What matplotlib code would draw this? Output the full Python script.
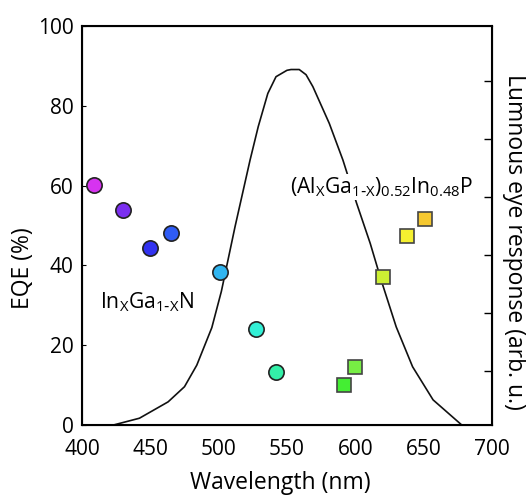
import matplotlib
matplotlib.use("Agg")
import matplotlib.pyplot as plt

plt.rcParams['font.family'] = ['Open Sans', 'DejaVu Sans']

# luminous eye response curve (EQE-axis units)
eye_wl = [423, 442, 463, 475, 484, 495, 502, 512, 523, 529, 536, 542, 550, 553, 559,
          564, 569, 581, 591, 601, 611, 619, 630, 642, 657, 678]
eye_val = [0, 1.7, 5.8, 9.6, 15, 24.4, 33.5, 49.7, 66.4, 74.8, 83.1, 87.3, 88.9, 89.1, 89.1,
           87.8, 84.8, 75.6, 66.4, 55.6, 45.5, 36.3, 24.6, 14.6, 6.3, 0]

# InGaN LEDs
ingan_wl = [409, 430, 450, 465, 501, 527, 542]
ingan_eqe = [60.2, 53.9, 44.3, 48.2, 38.3, 24.1, 13.4]
ingan_colors = ['#d633f0', '#7b2ff0', '#3232f0', '#2f5cf5', '#30b5f0', '#33f0d6', '#33f0a8']

# AlGaInP LEDs
algainp_wl = [592, 600, 620, 638, 651]
algainp_eqe = [10.0, 14.6, 37.2, 47.4, 51.6]
algainp_colors = ['#44ee33', '#77ee44', '#ccf033', '#f5f030', '#f5c830']

fig = plt.figure(figsize=(5.26, 4.95), dpi=100)
ax = fig.add_axes([0.156, 0.1414, 0.779, 0.806])

ax.plot(eye_wl, eye_val, color='#111111', lw=1.2, zorder=1)

for w, v, c in zip(ingan_wl, ingan_eqe, ingan_colors):
    ax.plot(w, v, 'o', ms=11, mfc=c, mec='#222222', mew=1.2, zorder=3)
for w, v, c in zip(algainp_wl, algainp_eqe, algainp_colors):
    ax.plot(w, v, 's', ms=10.5, mfc=c, mec='#444444', mew=1.2, zorder=3)

ax.text(413, 30.8, r'In$_\mathregular{X}$Ga$_\mathregular{1\text{-}X}$N', fontsize=15.2,
        va='center', ha='left', zorder=2)
ax.text(552, 59.6, r'(Al$_\mathregular{X}$Ga$_\mathregular{1\text{-}X}$)$_\mathregular{0.52}$In$_\mathregular{0.48}$P',
        fontsize=15.2, va='center', ha='left', zorder=2,
        bbox=dict(facecolor='white', edgecolor='none', pad=1))

ax.set_xlim(400, 700)
ax.set_ylim(0, 100)
ax.set_xticks([400, 450, 500, 550, 600, 650, 700])
ax.set_yticks([0, 20, 40, 60, 80, 100])
ax.tick_params(axis='x', length=0, labelsize=15, pad=10)
ax.tick_params(axis='y', direction='in', length=3, labelsize=15, pad=6)
ax.tick_params(right=False, top=False)
for s in ax.spines.values():
    s.set_linewidth(1.5)

ax.set_xlabel('Wavelength (nm)', fontsize=16.5, va='center')
ax.xaxis.set_label_coords(0.485, -0.145)
ax.set_ylabel('EQE (%)', fontsize=16.5, va='center')
ax.yaxis.set_label_coords(-0.145, 0.393)

ax2 = ax.twinx()
ax2.set_ylim(0, 100)
ax2.set_yticks([13.5, 28.1, 42.6, 57.1, 71.6, 86.2])
ax2.set_yticklabels([])
ax2.tick_params(axis='y', direction='in', length=6, width=1)
ax2.set_ylabel('Lumnous eye response (arb. u.)', fontsize=16.5, rotation=270, va='center')
ax2.yaxis.set_label_coords(1.054, 0.459)

fig.savefig('out.png', dpi=100)
